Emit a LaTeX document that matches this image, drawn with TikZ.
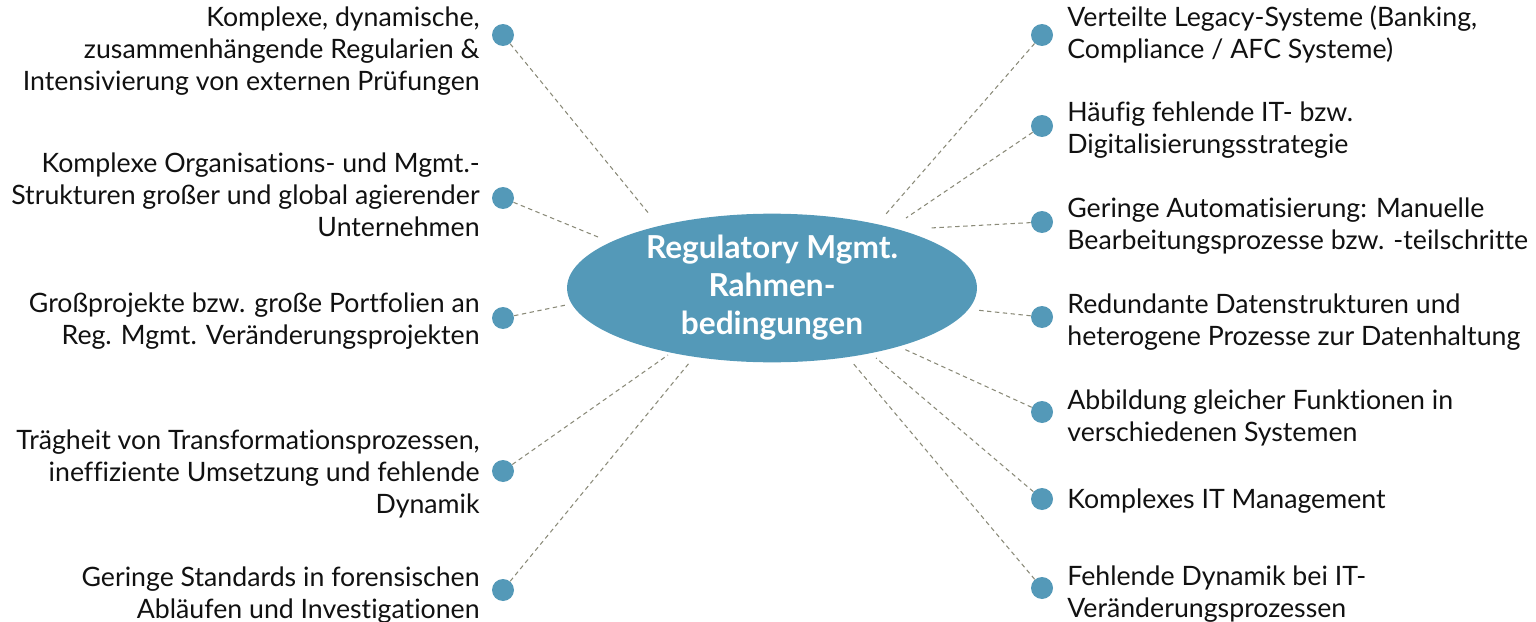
\documentclass[tikz,border=0pt]{standalone}
\usepackage{fontspec}
\setmainfont{Lato}[Ligatures={NoCommon}]
\usepackage{xcolor}
\usepackage{tikz}
\usetikzlibrary{shapes.geometric,positioning}
\definecolor{hubblue}{HTML}{5499B8}
\definecolor{ink}{HTML}{111111}
\definecolor{dashgray}{HTML}{8A8A78}
\tikzset{
  hub/.style={ellipse, fill=hubblue, draw=none, minimum width=8.2cm, minimum height=2.92cm,
    inner sep=0pt, text=white, font=\fontsize{18}{21.6}\selectfont\bfseries, align=center},
  dot/.style={circle, fill=hubblue, inner sep=0pt, minimum size=0.44cm},
  labl/.style={text=ink, font=\fontsize{15.2}{18.2}\selectfont, align=right, anchor=east, inner sep=0pt},
  labr/.style={text=ink, font=\fontsize{15.2}{18.2}\selectfont, align=left, anchor=west, inner sep=0pt},
  link/.style={draw=dashgray, line width=0.6pt, dash pattern=on 2.5pt off 2pt},
}
\begin{document}
\begin{tikzpicture}[x=0.02cm, y=-0.02cm]
\useasboundingbox (0,0) rectangle (1536,622);

% centre
\node[hub] (hub) at (772,288) {Regulatory Mgmt.\\Rahmen-\\bedingungen};

% left side
\node[dot] (dl1) at (503,35) {};
\node[dot] (dl2) at (503,198) {};
\node[dot] (dl3) at (503,318) {};
\node[dot] (dl4) at (503,471) {};
\node[dot] (dl5) at (503,590) {};
\node[labl] (tl1) at (480,51) {Komplexe, dynamische,\\zusammenhängende Regularien \&\\Intensivierung von externen Prüfungen};
\node[labl] (tl2) at (480,195) {Komplexe Organisations- und Mgmt.-\\Strukturen großer und global agierender\\Unternehmen};
\node[labl] (tl3) at (480,321) {Großprojekte bzw. große Portfolien an\\Reg. Mgmt. Veränderungsprojekten};
\node[labl] (tl4) at (480,474) {Trägheit von Transformationsprozessen,\\ineffiziente Umsetzung und fehlende\\Dynamik};
\node[labl] (tl5) at (480,595) {Geringe Standards in forensischen\\Abläufen und Investigationen};

% right side
\node[dot] (dr1) at (1042,35) {};
\node[dot] (dr2) at (1042,126) {};
\node[dot] (dr3) at (1042,222) {};
\node[dot] (dr4) at (1042,317) {};
\node[dot] (dr5) at (1042,412) {};
\node[dot] (dr6) at (1042,499) {};
\node[dot] (dr7) at (1042,588) {};
\node[labr] (tr1) at (1067,34) {Verteilte Legacy-Systeme (Banking,\\Compliance / AFC Systeme)};
\node[labr] (tr2) at (1067,130) {Häufig fehlende IT- bzw.\\Digitalisierungsstrategie};
\node[labr] (tr3) at (1067,226) {Geringe Automatisierung: Manuelle\\Bearbeitungsprozesse bzw. -teilschritte};
\node[labr] (tr4) at (1067,322) {Redundante Datenstrukturen und\\heterogene Prozesse zur Datenhaltung};
\node[labr] (tr5) at (1067,418) {Abbildung gleicher Funktionen in\\verschiedenen Systemen};
\node[labr] (tr6) at (1067,501) {Komplexes IT Management};
\node[labr] (tr7) at (1067,594) {Fehlende Dynamik bei IT-\\Veränderungsprozessen};

% ends near the hub
\coordinate (el1) at (650,215);
\coordinate (el2) at (598,237);
\coordinate (el3) at (566,305);
\coordinate (el4) at (668,355);
\coordinate (el5) at (690,362);
\coordinate (er1) at (886,214);
\coordinate (er2) at (906,218);
\coordinate (er3) at (930,228);
\coordinate (er4) at (976,310);
\coordinate (er5) at (904,349);
\coordinate (er6) at (876,358);
\coordinate (er7) at (852,362);

% links
\foreach \i in {1,...,5}{
  \draw[link] (dl\i) -- (el\i);
}
\foreach \i in {1,...,7}{
  \draw[link] (dr\i) -- (er\i);
}
\end{tikzpicture}
\end{document}
